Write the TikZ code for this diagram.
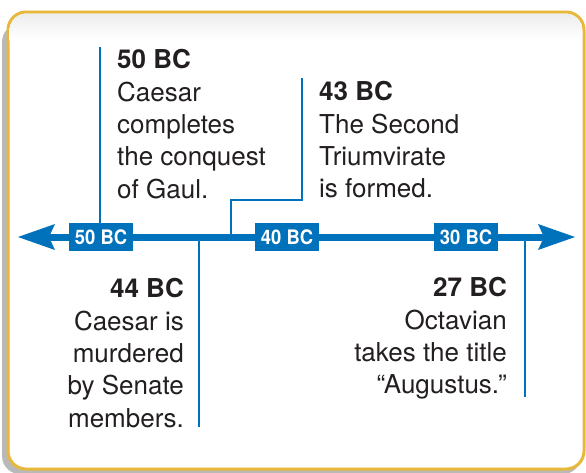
\documentclass[tikz,border=0pt]{standalone}
\usepackage{fontspec}
\usepackage{graphicx}
\setmainfont{TeX Gyre Heros}
\usetikzlibrary{arrows.meta}
\definecolor{tlblue}{RGB}{0,114,188}
\definecolor{framegold}{RGB}{232,184,58}
\definecolor{ink}{RGB}{35,31,32}
\newcommand{\boxlabel}[1]{\scalebox{0.92}[1]{#1}}
\begin{document}
\begin{tikzpicture}[x=1pt,y=-1pt,
  event/.style={inner sep=0pt, text=ink, font=\fontsize{26}{32.3}\selectfont},
  yearbox/.style={fill=tlblue, text=white, font=\fontsize{20}{20}\selectfont\bfseries,
    minimum width=64pt, minimum height=28pt, inner sep=0pt},
  link/.style={draw=tlblue, line width=2pt},
  tltip/.tip={Stealth[length=37pt,width=26pt,inset=6pt,line width=0pt]}]
\useasboundingbox (0,0) rectangle (586,472);
% shadow and frame
\fill[gray!55, rounded corners=18pt] (2,24) rectangle (581,474);
\draw[framegold, line width=3pt, fill=white, rounded corners=18pt] (8,12) rectangle (584,469);
\begin{scope}
  \clip[rounded corners=17pt] (9.5,13.5) rectangle (582.5,467.5);
  \shade[top color=gray!14, bottom color=white] (9.5,13.5) rectangle (582.5,40);
\end{scope}
% timeline ends
\coordinate (L) at (18,237);
\coordinate (R) at (575,237);
% connectors
\coordinate (c50) at (100,47);
\coordinate (c43) at (302,78);
\coordinate (k43) at (231,200);
\coordinate (c44) at (199,427);
\coordinate (c27) at (525,397);
\draw[link] (c50) -- (c50 |- L);
\draw[link] (c43) |- (k43) -- (k43 |- L);
\draw[link] (c44 |- L) -- (c44);
\draw[link] (c27 |- L) -- (c27);
% timeline
\draw[tlblue, line width=7pt, tltip-tltip] (L) -- (R);
\node[yearbox] (b50) at (101,237) {\boxlabel{50 BC}};
\node[yearbox] (b40) at (287,237) {\boxlabel{40 BC}};
\node[yearbox] (b30) at (466,237) {\boxlabel{30 BC}};
% events
\node[event, anchor=north west, align=left] (e50) at (117,49.5)
  {\textbf{50 BC}\\Caesar\\completes\\the conquest\\of Gaul.};
\node[event, anchor=north west, align=left] (e43) at (319,81.5)
  {\textbf{43 BC}\\The Second\\Triumvirate\\is formed.};
\node[event, anchor=north east, align=right] (e44) at (184,278.5)
  {\textbf{44 BC}\\Caesar is\\murdered\\by Senate\\members.};
\node[event, anchor=north east, align=right] (e27) at (507,277.5)
  {\textbf{27 BC}\\Octavian\\takes the title\\“Augustus.”};
\end{tikzpicture}
\end{document}
